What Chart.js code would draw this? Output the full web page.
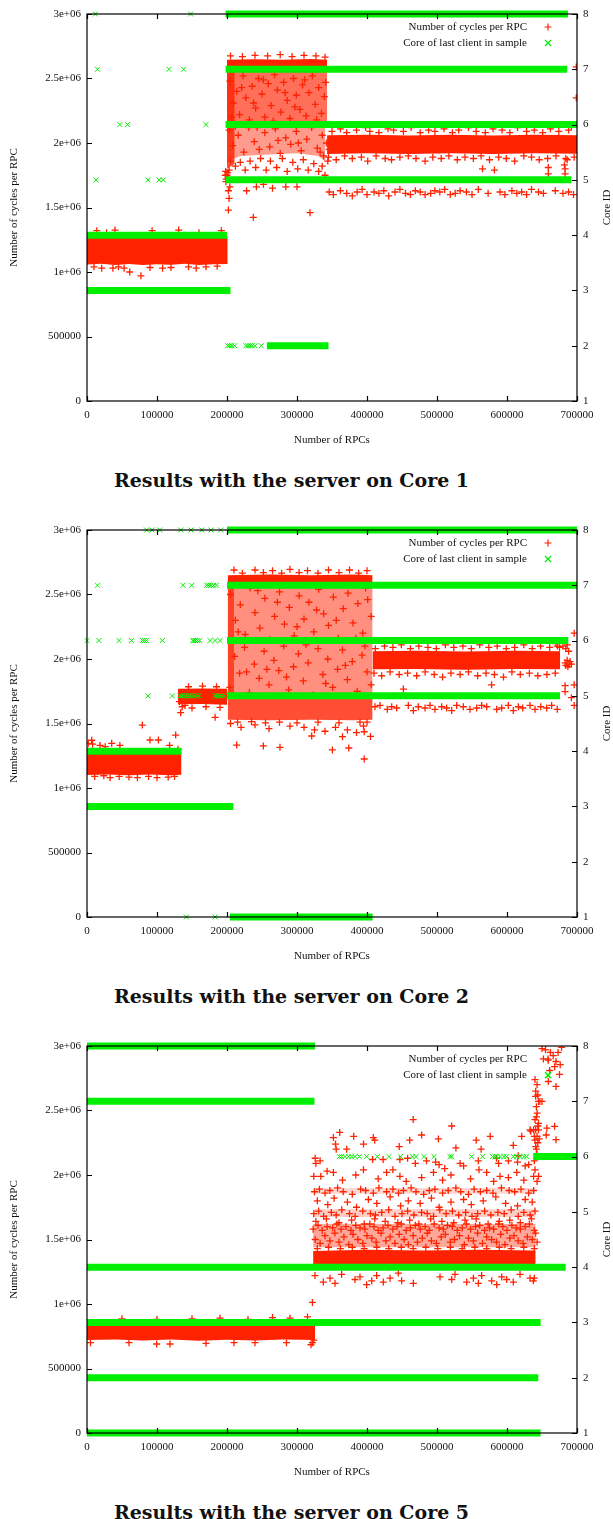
<!DOCTYPE html>
<html>
<head>
<meta charset="utf-8">
<script src="https://cdn.jsdelivr.net/npm/chart.js@4.4.0/dist/chart.umd.min.js"></script>
<style>
  body { margin: 0; background: #fff; width: 613px; height: 1519px; position: relative; overflow: hidden; }
  .panel { position: absolute; left: 0; width: 613px; height: 455px; }
  .caption { position: absolute; left: 0; width: 583px; text-align: center; line-height: 20px;
             font: bold 19px "DejaVu Serif", serif; color: #111; }
</style>
</head>
<body>
<div class="panel" style="top:0px"><canvas id="core1"></canvas></div>
<div class="caption" style="top:469px">Results with the server on Core 1</div>
<div class="panel" style="top:516px"><canvas id="core2"></canvas></div>
<div class="caption" style="top:985px">Results with the server on Core 2</div>
<div class="panel" style="top:1032px"><canvas id="core5"></canvas></div>
<div class="caption" style="top:1501px">Results with the server on Core 5</div>

<script>
// axes
const RPC_TICKS = [0, 100000, 200000, 300000, 400000, 500000, 600000, 700000];
const CYCLE_TICKS = [0, 500000, 1000000, 1500000, 2000000, 2500000, 3000000];
const CYCLE_TICK_LABELS = ["0", "500000", "1e+06", "1.5e+06", "2e+06", "2.5e+06", "3e+06"];
const CORE_TICKS = [1, 2, 3, 4, 5, 6, 7, 8];

const RED = "#ff2200";
const GREEN = "#00ee00";
const SERIF = "'Liberation Serif', 'Times New Roman', serif";

// Units below: x in thousands of RPCs, y in millions of cycles (or core number)

// ---------- server on core 1 ----------
const c1LowTop = [[0,1.275],[201,1.275]];
const c1LowBottom = [[0,1.058],[20,1.064],[40,1.055],[60,1.062],[80,1.054],[100,1.06],[120,1.056],[140,1.063],[160,1.055],[180,1.06],[201,1.062]];
const c1CapTop = [[200,2.645],[240,2.65],[280,2.645],[320,2.652],[343,2.645]];
const c1CapBottom = [[200,2.55],[343,2.55]];
const c1MidBottom = [[200,2.14],[345,2.14]];
const c1LowCloudBottom = [[200,1.86],[220,1.90],[260,1.91],[300,1.92],[330,1.90],[340,1.86]];
const c1EdgeTop = [[200,2.55],[211,2.55]];
const c1EdgeBottom = [[200,1.80],[211,1.84]];
const c1PlateauTop = [[343,2.06],[400,2.063],[460,2.058],[520,2.064],[580,2.058],[640,2.063],[700,2.06]];
const c1PlateauBottom = [[343,1.915],[400,1.92],[460,1.914],[520,1.92],[580,1.915],[640,1.92],[700,1.916]];

const c1Cycles = [
  [14,1.32],[28,1.305],[40,1.325],[93,1.32],[131,1.325],[160,1.305],[192,1.32],
  [10,1.04],[21,1.03],[37,1.03],[45,1.04],[53,1.03],[61,1.0],[77,0.97],[90,1.035],[108,1.03],[120,1.035],[145,1.04],[156,1.03],[170,1.04],[186,1.045],
  [198,1.78],[200,1.75],[199,1.72],[201,1.77],[202,1.73],[198.5,1.70],[203,1.79],[197.5,1.75],
  [202,1.63],[203,1.57],[202,1.48],[204,1.66],[228,1.63],[237.6,1.424],[242,1.66],[252,1.68],[265,1.65],[284,1.66],[300,1.66],[318.6,1.46],
  [205,1.86],[212,1.82],[219,1.85],[226,1.79],[233,1.86],[241,1.81],[248,1.88],[256,1.79],[262,1.86],[271,1.81],[279,1.88],[286,1.78],
  [294,1.85],[301,1.80],[309,1.87],[316,1.79],[324,1.84],[331,1.78],[336,1.82],[340,1.75],[344,1.86],[346,1.95],[342,2.0],[338,1.90],
  [205,2.675],[222,2.67],[240,2.68],[258,2.675],[276,2.685],[293,2.67],[310,2.68],[327,2.675],[340,2.665],
  [204,2.48],[209,2.31],[214,2.40],[218,2.22],[223,2.52],[227,2.35],[232,2.18],[236,2.44],[241,2.27],[245,2.50],[250,2.38],[254,2.20],
  [259,2.46],[263,2.29],[268,2.53],[272,2.41],[277,2.24],[281,2.47],[286,2.33],[290,2.19],[295,2.50],[299,2.37],[304,2.26],[308,2.45],
  [313,2.21],[317,2.39],[322,2.52],[326,2.30],[331,2.43],[335,2.23],[339,2.36],[207,2.20],[221,2.43],[238,2.31],[252,2.49],[266,2.17],
  [283,2.39],[297,2.28],[311,2.49],[328,2.18],[341,2.47],
  [203,2.10],[208,1.98],[216,2.06],[224,1.93],[231,2.12],[239,2.01],[246,1.95],[254,2.08],[261,1.97],[269,2.11],[276,1.92],[284,2.04],
  [291,1.99],[299,2.09],[306,1.94],[314,2.03],[321,2.12],[329,1.96],[336,2.06],[212,2.13],[243,2.12],[273,2.02],[302,2.00],[333,1.93],
  [350,2.09],[362,2.11],[371,2.08],[385,2.10],[398,2.12],[404,2.09],[417,2.08],[430,2.11],[438,2.10],[452,2.09],[463,2.12],[476,2.08],
  [488,2.10],[497,2.09],[510,2.11],[522,2.08],[531,2.10],[545,2.12],[556,2.09],[569,2.08],[580,2.11],[593,2.10],[604,2.08],[615,2.12],
  [628,2.09],[639,2.10],[651,2.08],[662,2.11],[674,2.09],[688,2.10],
  [345,1.89],[356,1.87],[368,1.90],[379,1.88],[392,1.89],[401,1.86],[413,1.90],[426,1.88],[435,1.87],[447,1.89],[459,1.90],[470,1.88],
  [483,1.86],[494,1.89],[506,1.88],[517,1.90],[529,1.87],[540,1.89],[552,1.88],[563,1.90],[575,1.87],[588,1.89],[599,1.88],[611,1.86],
  [624,1.90],[635,1.89],[646,1.87],[658,1.88],[670,1.90],[684,1.88],[696,1.89],
  [346,1.62],[352,1.60],[362,1.63],[371,1.61],[379,1.59],[386,1.62],[393,1.64],[400,1.60],[410,1.62],[417,1.61],[424,1.63],[431,1.59],
  [440,1.62],[447,1.64],[455,1.61],[462,1.60],[469,1.63],[476,1.62],[483,1.60],[491,1.61],[497,1.63],[504,1.62],[511,1.64],[519,1.60],
  [526,1.61],[533,1.63],[542,1.62],[550,1.60],[559,1.64],[573,1.61],[590,1.62],[597,1.60],[607,1.63],[614,1.61],[621,1.62],[628,1.60],
  [635,1.64],[645,1.62],[652,1.61],[669,1.63],[680,1.61],[688,1.62],[695,1.60],
  [565,1.80],[582,1.79],[659,1.81],[659,1.76],[683,1.80],[683,1.76],[699,2.59],[699,2.35],[692,2.13],[686,1.87],[682,1.83],[699,1.96],[697,2.0]
];
const c1CoreRuns = [[198,687,8],[198,686,7],[198,700,6],[198,692,5],[0,200,4],[0,205,3],[257,345,2]];
const c1Cores = [[12,8],[148,8],[15,7],[117,7],[138,7],[47,6],[58,6],[170,6],[13,5],[87,5],[103,5],[109,5],
  [201,2],[204,2],[207,2],[211,2],[227,2],[230,2],[233,2],[236,2],[240,2],[249,2]];

// ---------- server on core 2 ----------
const c2LowTop = [[0,1.275],[135,1.275]];
const c2LowBottom = [[0,1.10],[30,1.105],[60,1.098],[90,1.105],[120,1.099],[135,1.102]];
const c2StepTop = [[130,1.77],[165,1.772],[200,1.77]];
const c2StepBottom = [[130,1.65],[165,1.652],[200,1.645]];
const c2CapTop = [[201,2.65],[260,2.655],[320,2.65],[380,2.655],[408,2.65]];
const c2CapBottom = [[201,2.58],[408,2.58]];
const c2MidBottom = [[201,2.12],[408,2.12]];
const c2LowCloudBottom = [[201,1.70],[408,1.70]];
const c2BaseBottom = [[201,1.53],[260,1.525],[320,1.53],[380,1.525],[408,1.53]];
const c2EdgeTop = [[201,2.58],[210,2.58]];
const c2EdgeBottom = [[201,1.70],[210,1.70]];
const c2PlateauTop = [[408,2.06],[470,2.063],[540,2.058],[610,2.063],[676,2.06]];
const c2PlateauBottom = [[408,1.92],[470,1.923],[540,1.917],[610,1.922],[676,1.92]];

const c2Cycles = [
  [1.9,1.346],[6.7,1.37],[8,1.34],[18.6,1.33],[26,1.32],[35.3,1.346],[47,1.33],[79,1.488],[90,1.372],[102,1.372],[118,1.33],[126.7,1.41],[130,1.30],
  [11,1.09],[24,1.095],[33,1.08],[46,1.09],[60,1.085],[72,1.08],[88,1.09],[100,1.08],[116,1.085],[125,1.09],
  [133.8,1.584],[136,1.63],[140,1.64],[132,1.67],[183,1.548],[150,1.62],[170,1.63],[190,1.625],[145,1.785],[165,1.79],[185,1.785],
  [205,1.50],[213.8,1.333],[220,1.47],[240,1.49],[251.9,1.326],[260,1.46],[275.7,1.315],[290,1.48],[310,1.47],[321,1.403],[325,1.45],
  [340,1.44],[350.5,1.295],[355,1.47],[365,1.398],[372,1.45],[374,1.31],[385,1.43],[395,1.48],[396,1.225],[396,1.436],[400,1.51],[405,1.40],
  [215,1.51],[235,1.515],[255,1.505],[275,1.51],[300,1.505],[330,1.51],[360,1.505],[390,1.51],
  [210,2.69],[240,2.69],[265,2.685],[290,2.695],[315,2.685],[345,2.69],[375,2.69],[400,2.685],
  [222,2.665],[252,2.67],[278,2.665],[303,2.67],[330,2.665],[360,2.67],[388,2.665],
  [205,2.50],[212,2.30],[219,2.42],[226,2.19],[233,2.55],[240,2.36],[247,2.24],[254,2.47],[261,2.15],[268,2.33],[275,2.52],[282,2.27],
  [289,2.40],[296,2.18],[303,2.49],[310,2.31],[317,2.44],[324,2.21],[331,2.54],[338,2.35],[345,2.26],[352,2.48],[359,2.16],[366,2.39],
  [373,2.51],[380,2.28],[387,2.43],[394,2.20],[401,2.46],[406,2.33],[216,2.21],[244,2.53],[272,2.44],[300,2.25],[328,2.38],[356,2.30],
  [384,2.16],[398,2.55],
  [204,1.78],[211,2.02],[218,1.89],[225,2.09],[232,1.74],[239,1.96],[246,1.85],[253,2.06],[260,1.80],[267,1.99],[274,1.91],[281,2.10],
  [288,1.76],[295,1.94],[302,2.04],[309,1.83],[316,1.97],[323,1.72],[330,2.08],[337,1.88],[344,2.00],[351,1.78],[358,1.92],[365,2.07],
  [372,1.84],[379,1.98],[386,1.75],[393,2.03],[400,1.90],[406,1.80],[228,1.90],[257,1.92],[285,1.86],[313,2.11],[341,1.81],[369,1.95],[397,2.10],
  [412,2.08],[425,2.10],[437,2.09],[449,2.11],[462,2.08],[474,2.10],[487,2.09],[499,2.08],[512,2.11],[524,2.09],[537,2.10],
  [549,2.08],[561,2.11],[574,2.09],[586,2.10],[599,2.08],[611,2.09],[624,2.11],[636,2.08],[648,2.10],[661,2.09],[672,2.10],
  [410,1.89],[421,1.87],[433,1.90],[446,1.88],[458,1.89],[471,1.87],[483,1.90],[496,1.88],[508,1.86],[520,1.89],[533,1.88],
  [545,1.90],[558,1.87],[570,1.89],[582,1.88],[595,1.86],[607,1.90],[619,1.88],[632,1.89],[644,1.87],[657,1.88],[669,1.89],
  [411.4,1.63],[418.6,1.64],[429,1.61],[435.3,1.63],[442.4,1.62],[459,1.64],[466.2,1.60],[473.3,1.63],[482.9,1.62],[490,1.64],
  [497.1,1.61],[506.7,1.63],[513.8,1.62],[521,1.60],[528.1,1.64],[537.6,1.63],[547.1,1.61],[556.7,1.62],[563.8,1.64],[571,1.63],
  [585.3,1.61],[592.4,1.62],[601.9,1.64],[609,1.60],[616.2,1.63],[622.4,1.62],[632.9,1.64],[640,1.61],[648.2,1.63],[656.7,1.62],
  [663.8,1.64],[671.8,1.61],
  [670,2.12],[675,2.09],[680,2.10],[684,2.08],[686,2.11],[688,2.06],[683,1.97],[686,1.99],[689,1.96],[684,1.95],[690,1.98],[687,1.94],[692,1.96],
  [452,1.767],[578,1.80],[683,1.747],[683,1.793],[696,1.80],[696,2.2],[696,1.64],[692,1.70]
];
const c2CoreRuns = [[200,700,8],[200,700,7],[200,687.6,6],[200,675.7,5],[0,135,4],[0,209,3],[204,408,1]];
const c2Cores = [
  [85,8],[93,8],[104,8],[134,8],[148.6,8],[164,8],[177,8],[191,8],
  [15,7],[137,7],[149.5,7],[171,7],[174,7],[177,7],[181,7],[185,7],
  [0,6],[17,6],[45.7,6],[63.8,6],[79.5,6],[82,6],[85,6],[107.6,6],[151,6],[153,6],[155,6],[158,6],[161,6],[175.7,6],[182.9,6],[190,6],
  [87,5],[121.9,5],[133,5],[136,5],[139,5],[142,5],[145,5],[148,5],[152,5],[156,5],[160,5],[183,5],[186,5],[189,5],[192,5],[196,5],
  [142,1],[183,1]
];

// ---------- server on core 5 ----------
const c5LowTop = [[0,0.83],[326,0.83]];
const c5LowBottom = [[0,0.72],[40,0.725],[80,0.717],[120,0.724],[160,0.716],[200,0.723],[240,0.717],[280,0.724],[326,0.72]];
const c5BaseTop = [[323,1.41],[400,1.42],[480,1.415],[560,1.42],[641,1.415]];
const c5BaseBottom = [[323,1.29],[641,1.29]];
const c5RowTop = [[323,1.62],[641,1.62]];
const c5RowBottom = [[323,1.44],[641,1.44]];
const c5BandTop = [[323,1.735],[641,1.735]];
const c5BandBottom = [[323,1.675],[641,1.675]];
const c5StripTop = [[323,1.90],[641,1.90]];
const c5StripBottom = [[323,1.855],[641,1.855]];

const c5Cycles = [
  [5,0.70],[60,0.70],[99.5,0.69],[118.6,0.69],[170,0.695],[210,0.70],[240,0.70],[285,0.70],[320,0.684],[322,0.70],[324,0.72],
  [50,0.885],[100,0.88],[150,0.885],[190,0.89],[230,0.88],[265,0.895],[290,0.89],[315,0.9],[322,1.012],
  [466,2.43],[521,2.38],[502,2.28],[478,2.31],[352,2.29],[361,2.33],[381,2.30],[409,2.29],[411,2.27],[446,2.22],[461,2.27],[556,2.27],
  [563,2.20],[576,2.30],[609,2.23],[621,2.30],[634,2.34],[355,2.24],[356,2.20],[371,2.20],[395,2.24],[408,2.12],[423,2.12],[447,2.12],
  [458,2.13],[469,2.09],[485,2.11],[498,2.10],[503,2.08],[511,2.05],[527,2.21],[533,2.09],[538,2.07],[559,2.11],[585,2.13],[588,2.09],
  [602,2.11],[615,2.10],[616,2.15],[626,2.07],[631,2.08],[326,2.13],[327,2.09],[333,2.11],[324,1.99],[334,1.99],[352,2.02],[395,2.04],
  [428,2.02],[447,1.99],[495,2.02],[571,2.02],[590,1.99],[614,2.02],[638,1.99],
  [343,2.03],[365,1.96],[384,2.00],[416,1.97],[437,2.04],[456,1.95],[478,1.98],[508,1.96],[520,2.00],[548,1.97],[560,2.04],[581,1.95],[602,1.98],[624,1.96],
  [325,1.87],[332,1.89],[340,1.86],[347,1.88],[358,1.90],[366,1.87],[379,1.85],[391,1.89],[398,1.88],[409,1.86],[417,1.90],[428,1.87],
  [437,1.89],[445,1.86],[452,1.88],[463,1.90],[470,1.87],[481,1.85],[489,1.88],[497,1.89],[508,1.86],[516,1.88],[527,1.90],[534,1.87],
  [545,1.85],[553,1.89],[562,1.87],[571,1.88],[580,1.86],[592,1.90],[603,1.88],[611,1.87],[620,1.89],[631,1.86],[638,1.88],
  [329,1.80],[344,1.77],[353,1.82],[372,1.79],[385,1.75],[402,1.81],[414,1.78],[433,1.83],[448,1.76],[459,1.80],[476,1.78],
  [492,1.82],[503,1.75],[520,1.79],[538,1.81],[549,1.77],[566,1.80],[584,1.83],[598,1.78],[615,1.76],[626,1.81],[636,1.79],
  [324,1.70],[331,1.72],[338,1.68],[349,1.71],[356,1.69],[364,1.73],[375,1.70],[383,1.68],[394,1.72],[405,1.70],[412,1.69],[421,1.71],
  [431,1.73],[440,1.68],[450,1.70],[458,1.72],[467,1.69],[478,1.71],[486,1.70],[495,1.68],[504,1.73],[513,1.70],[522,1.72],[531,1.69],
  [541,1.71],[550,1.68],[558,1.70],[568,1.72],[577,1.69],[587,1.71],[596,1.70],[606,1.73],[616,1.68],[624,1.71],[633,1.69],[640,1.72],
  [327,1.64],[342,1.66],[360,1.63],[378,1.65],[396,1.62],[411,1.66],[426,1.64],[444,1.63],[461,1.65],[474,1.62],
  [491,1.66],[507,1.64],[524,1.63],[540,1.65],[556,1.66],[573,1.62],[589,1.64],[604,1.65],[619,1.63],[635,1.66],
  [323,1.58],[330,1.61],[336,1.57],[343,1.60],[351,1.59],[357,1.62],[363,1.58],[370,1.60],[377,1.57],[384,1.61],[390,1.59],[397,1.58],
  [404,1.62],[410,1.60],[416,1.57],[423,1.59],[430,1.61],[437,1.58],[443,1.60],[449,1.62],[456,1.57],[462,1.59],[469,1.61],[476,1.58],
  [483,1.60],[489,1.57],[496,1.62],[503,1.59],[509,1.58],[515,1.61],[522,1.60],[529,1.57],[536,1.59],[542,1.62],[548,1.58],[555,1.60],
  [561,1.61],[568,1.57],[575,1.59],[581,1.58],[588,1.62],[594,1.60],[600,1.57],[607,1.61],[613,1.59],[619,1.58],[626,1.60],[632,1.62],[639,1.57],
  [326,1.50],[333,1.47],[340,1.53],[347,1.49],[354,1.55],[360,1.48],[367,1.52],[374,1.46],[380,1.54],[387,1.50],[394,1.47],[400,1.53],
  [407,1.51],[413,1.48],[420,1.55],[427,1.49],[433,1.52],[440,1.47],[446,1.54],[453,1.50],[459,1.46],[466,1.53],[472,1.48],[479,1.51],
  [486,1.55],[492,1.49],[499,1.47],[506,1.52],[512,1.54],[519,1.48],[525,1.50],[532,1.53],[539,1.46],[545,1.51],[552,1.49],[558,1.55],
  [565,1.47],[571,1.52],[578,1.50],[585,1.48],[591,1.54],[597,1.46],[604,1.51],[610,1.53],[616,1.49],[623,1.47],[629,1.52],[636,1.50],
  [329,1.43],[345,1.44],[362,1.43],[379,1.44],[396,1.43],[414,1.44],[431,1.43],[449,1.44],[466,1.43],[484,1.44],[501,1.43],[519,1.44],
  [536,1.43],[554,1.44],[571,1.43],[589,1.44],[606,1.43],[624,1.44],[639,1.43],
  [325.7,1.22],[337.6,1.17],[347.2,1.20],[354.3,1.16],[363.8,1.23],[382.9,1.19],[390,1.21],[399.5,1.15],[406.7,1.18],[413.8,1.22],
  [423.3,1.17],[432.9,1.20],[444.8,1.24],[449.5,1.18],[466.2,1.16],[504.3,1.21],[521,1.19],[525.7,1.23],[542.4,1.17],[552,1.20],
  [559.1,1.16],[563.8,1.22],[578.1,1.18],[585.3,1.15],[592.4,1.21],[599.5,1.19],[609,1.17],[618.6,1.23],[632.9,1.20],[637.6,1.18],
  [640,2.74],[643,2.70],[641,2.61],[645,2.57],[642,2.53],[643,2.48],[640,2.43],[645,2.40],[641,2.35],[643,2.30],[640,2.27],[644,2.25],
  [641,2.22],[642,2.20],[643,2.16],[640,2.04],[645,1.99],[643,1.95],[639,2.11],[645,2.35],[638,2.35],[647,2.57],[650,2.57],[633,2.35],
  [641,1.55],[643,1.48],[639,1.20],[642,2.45],[644,2.38],[639,2.30],[646,2.28],[641,2.65],[644,2.62],
  [650,2.98],[652,2.90],[666,2.925],[673,2.95],[678,2.99],[670,2.88],[668,2.84],[659,2.89],[661,2.81],[659,2.725],[670,2.687],
  [676,2.855],[657,2.364],[668,2.377],[670,2.274],[656,2.31],[662,2.95],[655,2.97],[675,2.78]
];
const c5CoreRuns = [[0,325.7,8],[0,325,7],[637.6,700,6],[0,683.8,4],[0,648,3],[0,644.7,2],[0,648,1]];
const c5Cores = [
  [360.5,6],[363.8,6],[368.6,6],[373.3,6],[378.1,6],[382.9,6],[389.1,6],[399.5,6],[414.8,6],[431.4,6],[448.1,6],[464.8,6],[470,6],
  [481.4,6],[495.7,6],[518.6,6],[521,6],[549.5,6],[565.3,6],[579.5,6],[582.9,6],[585.3,6],[590,6],[595.7,6],[599.5,6],[609.1,6],
  [613.8,6],[618.6,6],[624.3,6],[628.1,6],[659,7.46]
];

function cyclePts(list) { return list.map(([x, y]) => ({ x: x * 1000, y: y * 1e6 })); }
function corePts(list) { return list.map(([x, c]) => ({ x: x * 1000, y: c })); }

function buildDatasets(areas, cycles, runs, cores) {
  const ds = [];
  // filled regions where the crosses pile up into a solid mass
  areas.forEach(([top, bottom, alpha]) => {
    ds.push({ type: "line", data: cyclePts(top), yAxisID: "y", fill: "+1",
      backgroundColor: `rgba(255,34,0,${alpha})`, borderColor: "rgba(0,0,0,0)",
      borderWidth: 0, pointRadius: 0, order: 2 });
    ds.push({ type: "line", data: cyclePts(bottom), yAxisID: "y", fill: false,
      borderColor: "rgba(0,0,0,0)", borderWidth: 0, pointRadius: 0, order: 2 });
  });
  ds.push({ type: "scatter", data: cyclePts(cycles), yAxisID: "y", pointStyle: "cross",
    pointRadius: 3.5, borderColor: RED, backgroundColor: RED, borderWidth: 1.3, order: 1 });
  runs.forEach(([x0, x1, c]) => {
    ds.push({ type: "line", data: corePts([[x0, c], [x1, c]]), yAxisID: "y2", fill: false,
      borderColor: GREEN, borderWidth: 7, borderCapStyle: "butt", pointRadius: 0, order: 0, clip: false });
  });
  ds.push({ type: "scatter", data: corePts(cores), yAxisID: "y2", pointStyle: "crossRot",
    pointRadius: 3.5, borderColor: GREEN, backgroundColor: GREEN, borderWidth: 1, order: 0, clip: false });
  return ds;
}

// gnuplot style frame: full border, inward ticks, legend inside, y2 label
const gnuFrame = {
  id: "gnuFrame",
  afterDraw(chart) {
    const { ctx, chartArea: a, scales } = chart;
    ctx.save();
    ctx.strokeStyle = "#000";
    ctx.lineWidth = 1.2;
    ctx.strokeRect(a.left, a.top, a.right - a.left, a.bottom - a.top);
    ctx.beginPath();
    RPC_TICKS.forEach(v => {
      const x = Math.round(scales.x.getPixelForValue(v)) + 0.5;
      ctx.moveTo(x, a.bottom); ctx.lineTo(x, a.bottom - 5);
      ctx.moveTo(x, a.top); ctx.lineTo(x, a.top + 5);
    });
    CYCLE_TICKS.forEach(v => {
      const y = Math.round(scales.y.getPixelForValue(v)) + 0.5;
      ctx.moveTo(a.left, y); ctx.lineTo(a.left + 5, y);
    });
    CORE_TICKS.forEach(v => {
      const y = Math.round(scales.y2.getPixelForValue(v)) + 0.5;
      ctx.moveTo(a.right, y); ctx.lineTo(a.right - 5, y);
    });
    ctx.stroke();

    // legend
    ctx.font = `11px ${SERIF}`;
    ctx.fillStyle = "#111";
    ctx.textAlign = "right";
    ctx.textBaseline = "middle";
    const lx = a.right - 50, mx = a.right - 29;
    const rows = [[a.top + 13, "Number of cycles per RPC"], [a.top + 29, "Core of last client in sample"]];
    ctx.fillText(rows[0][1], lx, rows[0][0]);
    ctx.fillText(rows[1][1], lx, rows[1][0]);
    ctx.lineWidth = 1.2;
    ctx.strokeStyle = RED;
    ctx.beginPath();
    ctx.moveTo(mx - 3.5, rows[0][0]); ctx.lineTo(mx + 3.5, rows[0][0]);
    ctx.moveTo(mx, rows[0][0] - 3.5); ctx.lineTo(mx, rows[0][0] + 3.5);
    ctx.stroke();
    ctx.strokeStyle = GREEN;
    ctx.beginPath();
    ctx.moveTo(mx - 3, rows[1][0] - 3); ctx.lineTo(mx + 3, rows[1][0] + 3);
    ctx.moveTo(mx - 3, rows[1][0] + 3); ctx.lineTo(mx + 3, rows[1][0] - 3);
    ctx.stroke();

    // right axis title
    ctx.fillStyle = "#111";
    ctx.textAlign = "center";
    ctx.translate(607, (a.top + a.bottom) / 2);
    ctx.rotate(-Math.PI / 2);
    ctx.fillText("Core ID", 0, 0);
    ctx.restore();
  }
};

function makePanel(id, datasets) {
  const font = { family: SERIF, size: 11 };
  new Chart(document.getElementById(id), {
    type: "scatter",
    data: { datasets },
    options: {
      responsive: true,
      maintainAspectRatio: false,
      animation: false,
      events: [],
      layout: { padding: { top: 14, left: 0, right: 0, bottom: 0 } },
      plugins: { legend: { display: false }, tooltip: { enabled: false } },
      scales: {
        x: {
          type: "linear", min: 0, max: 700000,
          afterBuildTicks: s => { s.ticks = RPC_TICKS.map(v => ({ value: v })); },
          ticks: { callback: v => String(v), font, color: "#111", padding: 8, maxRotation: 0, autoSkip: false },
          grid: { display: false, drawTicks: false },
          border: { display: false },
          title: { display: true, text: "Number of RPCs", font, color: "#111", padding: { top: 0, bottom: 8 } },
          afterFit: s => { s.height = 54; }
        },
        y: {
          type: "linear", position: "left", min: 0, max: 3000000,
          afterBuildTicks: s => { s.ticks = CYCLE_TICKS.map(v => ({ value: v })); },
          ticks: { callback: v => CYCLE_TICK_LABELS[CYCLE_TICKS.indexOf(v)], font, color: "#111", padding: 6 },
          grid: { display: false, drawTicks: false },
          border: { display: false },
          title: { display: true, text: "Number of cycles per RPC", font, color: "#111", padding: { top: 8, bottom: 0 } },
          afterFit: s => { s.width = 87; }
        },
        y2: {
          type: "linear", position: "right", min: 1, max: 8,
          afterBuildTicks: s => { s.ticks = CORE_TICKS.map(v => ({ value: v })); },
          ticks: { callback: v => String(v), font, color: "#111", padding: 6 },
          grid: { display: false, drawTicks: false },
          border: { display: false },
          afterFit: s => { s.width = 36; }
        }
      }
    },
    plugins: [gnuFrame]
  });
}

makePanel("core1", buildDatasets(
  [[c1LowTop, c1LowBottom, 1], [c1CapTop, c1CapBottom, 1], [c1CapBottom, c1MidBottom, 0.65],
   [c1MidBottom, c1LowCloudBottom, 0.45], [c1EdgeTop, c1EdgeBottom, 0.8], [c1PlateauTop, c1PlateauBottom, 1]],
  c1Cycles, c1CoreRuns, c1Cores));

makePanel("core2", buildDatasets(
  [[c2LowTop, c2LowBottom, 1], [c2StepTop, c2StepBottom, 1], [c2CapTop, c2CapBottom, 1],
   [c2CapBottom, c2MidBottom, 0.5], [c2MidBottom, c2LowCloudBottom, 0.5], [c2LowCloudBottom, c2BaseBottom, 0.8],
   [c2EdgeTop, c2EdgeBottom, 0.7], [c2PlateauTop, c2PlateauBottom, 1]],
  c2Cycles, c2CoreRuns, c2Cores));

makePanel("core5", buildDatasets(
  [[c5LowTop, c5LowBottom, 1], [c5BaseTop, c5BaseBottom, 1], [c5RowTop, c5RowBottom, 0.4],
   [c5BandTop, c5BandBottom, 0.22], [c5StripTop, c5StripBottom, 0.18]],
  c5Cycles, c5CoreRuns, c5Cores));
</script>
</body>
</html>
